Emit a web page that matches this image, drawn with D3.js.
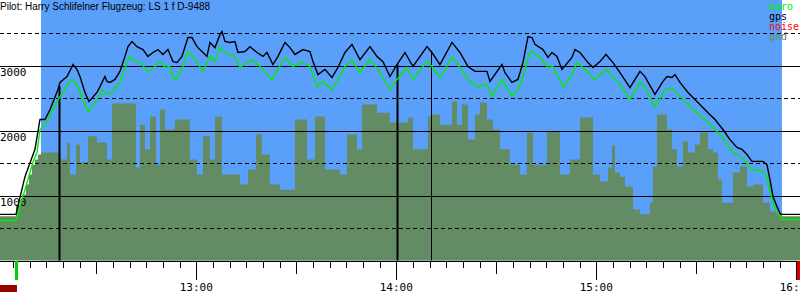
<!DOCTYPE html>
<html>
<head>
<meta charset="utf-8">
<script src="https://cdn.jsdelivr.net/npm/d3@7"></script>
<style>
body { margin: 0; background: #fff; overflow: hidden; }
</style>
</head>
<body>
<div id="barogram"></div>
<script>
// minutes after 12:00 and altitudes in metres
var gpsMin = [0,5.9,8.6,11.6,13.1,14.6,16.1,18.5,19.1,21.2,
  22.7,23.0,24.2,25.1,26.6,27.8,30.2,31.1,32.6,33.2,
  34.1,35.6,37.1,38.6,39.5,40.7,42.2,44.0,45.5,47.0,
  48.5,50.0,51.5,53.0,54.2,55.7,57.5,58.7,60.2,62.0,
  63.2,64.1,65.6,67.1,67.7,68.6,70.1,71.6,72.5,74.6,
  76.1,78.2,80.0,81.2,83.0,84.5,86.6,88.1,89.6,92.0,
  94.1,95.0,96.5,98.6,100.7,102.5,104.6,106.7,109.1,112.1,
  114.2,116.0,118.1,120.2,122.6,125.0,129.2,130.7,133.1,136.7,
  139.1,141.5,143.6,147.2,148.1,151.7,152.6,154.7,156.5,158.0,
  159.5,160.7,161.6,164.0,165.5,166.7,168.2,169.7,172.7,173.6,
  175.1,177.5,179.0,181.1,182.9,185.0,187.1,190.1,193.1,194.6,
  197.6,200.0,201.2,202.7,203.6,205.1,207.5,210.2,213.2,215.6,
  218.0,220.1,222.2,223.7,225.2,226.7,230.0,231.2,232.1,233.0,
  234.2,235.1,235.7,241.1];
var gpsAlt = [710,710,1290,1710,2170,2170,2320,2630,2740,2830,
  2980,3015,2940,2830,2585,2445,2585,2675,2830,2755,
  2740,2785,2910,3140,3290,3370,3290,3245,3140,3200,
  3245,3170,3245,3060,3045,3140,3430,3430,3290,3200,
  3140,3355,3275,3475,3525,3370,3355,3370,3200,3215,
  3290,3200,3140,3200,3015,3140,3355,3275,3170,3245,
  3215,3060,2860,2940,2815,2970,3200,3325,3090,3290,
  3140,3060,2830,3015,3200,2985,3290,3200,3015,3355,
  3200,2985,2910,2910,2755,3015,2890,2740,2785,3045,
  3445,3430,3325,3245,3125,3200,3140,2940,3125,3245,
  3200,3045,2970,3060,3170,3045,2890,2660,2910,2830,
  2555,2755,2830,2815,2860,2740,2585,2445,2290,2170,
  2015,1860,1740,1710,1630,1525,1525,1475,1245,985,
  830,725,710,710];

var baroMin = [0,5.9,7.1,8.6,10.1,11.0,12.2,13.1,15.2,17.0,
  18.5,20.6,22.1,23.0,24.5,26.0,27.5,30.2,31.7,33.2,
  35.0,37.1,39.2,40.1,41.0,43.1,45.5,47.6,49.1,50.6,
  52.1,53.0,53.9,55.7,57.5,59.0,62.0,64.1,65.6,67.1,
  68.6,71.6,73.1,75.2,76.7,78.5,80.0,82.7,84.5,86.6,
  89.0,91.7,94.1,96.2,98.0,100.7,102.5,104.6,106.7,109.1,
  112.1,114.5,118.1,120.2,123.2,125.0,129.2,130.7,133.1,136.7,
  139.1,141.5,144.2,147.2,148.7,151.7,154.7,156.5,158.0,160.1,
  161.0,163.1,165.5,167.0,170.0,172.7,174.2,176.6,179.6,181.1,
  182.9,185.0,187.1,190.1,193.1,194.6,197.6,200.6,203.0,205.1,
  207.5,210.2,213.2,215.6,218.0,220.7,223.7,226.7,230.0,231.2,
  232.1,233.0,234.2,235.1,235.7,241.1];
var baroAlt = [615,615,830,1090,1355,1510,1660,2015,2125,2325,
  2475,2630,2755,2785,2675,2475,2290,2475,2630,2555,
  2600,2740,3045,3140,3090,3045,2910,2985,3060,2970,
  2985,2815,2785,2940,3215,3140,2910,3140,3060,3290,
  3200,3140,2970,3045,3090,3015,2940,2785,2940,3125,
  2985,3045,2985,2675,2755,2630,2785,2985,3090,2890,
  3090,2940,2630,2785,2970,2785,3060,2985,2815,3125,
  2970,2785,2675,2710,2525,2785,2525,2630,2830,3215,
  3200,3125,2970,2985,2675,2860,3045,2940,2785,2860,
  2940,2830,2710,2475,2740,2675,2370,2630,2645,2525,
  2400,2275,2140,2015,1890,1675,1585,1400,1370,1290,
  1060,890,740,675,630,630];

var gndMin = [0,5.9,7.7,8.9,9.8,10.7,11.6,12.5,13.4,19.1,
  21.2,22.1,23.9,25.1,27.5,30.2,33.2,34.7,41.9,43.1,
  44.6,46.1,47.9,49.1,50.6,53.6,58.1,60.2,62.0,64.1,
  65.6,67.7,73.1,75.5,77.9,79.7,82.1,85.1,89.6,93.2,
  95.6,98.6,103.1,105.2,108.2,109.7,114.2,118.1,123.5,125.0,
  129.5,130.7,133.1,136.7,138.2,139.7,141.5,143.6,145.1,147.2,
  149.0,151.1,154.1,157.1,159.2,161.0,165.2,169.1,172.1,175.1,
  179.0,181.1,183.5,184.7,185.6,187.1,188.6,191.0,193.1,196.1,
  197.0,198.2,201.2,202.7,204.2,206.0,207.5,209.6,211.1,213.5,
  215.0,216.5,217.7,221.0,223.1,225.2,227.0,230.0,232.1,234.2,
  235.7,241.1];
var gndAlt = [680,860,1015,1170,1325,1475,1555,1630,1660,1555,
  1815,1325,1785,1510,1910,1815,1555,2415,1430,2090,
  1710,2215,1475,2325,2015,2170,1555,1325,1910,1555,
  2215,1325,1170,1400,1940,1630,1170,1090,2170,1555,
  2215,1400,1325,1940,1710,2400,2275,2125,2200,1710,
  2215,2245,2090,2445,2090,2400,1860,2245,2430,2170,
  2015,1710,1475,1325,1970,1475,1985,1325,1555,2200,
  1325,1215,1430,1770,1355,1290,1140,785,710,890,
  1445,2245,2015,1710,1445,1830,1660,1785,1970,1710,
  1660,1245,890,1355,1445,1140,1170,890,755,710,
  680,680];

var markerMin = [18.8, 120.2, 130.4];
var markerWidth = [2, 2, 1];
var flightMin = [13.4, 235.7];     // blue band
var takeoffMin = 5.9;
var landingMin = 240.2;
var noiseBar = [0, 6.2];
var solidLines = [1000, 2000, 3000];
var dashedLines = [500, 1500, 2500, 3500];
var altLabels = ["1000", "2000", "3000"];
var hourLabels = ["13:00", "14:00", "15:00", "16:00"];
var legendNames = ["baro", "gps", "noise", "gnd"];
var legendColors = ["#00ee00", "#000000", "#ff0000", "#648c64"];
var title = "Pilot: Harry Schlifelner Flugzeug: LS 1 f D-9488";

var width = 800, height = 300;
var plotBottom = 260.5;

function toDate(m) { return new Date(2000, 0, 1, 12, 0, Math.round(m * 60)); }

var svg = d3.select("#barogram")
  .append("svg")
  .attr("width", width)
  .attr("height", height)
  .style("display", "block");

svg.append("rect").attr("width", width).attr("height", height).attr("fill", "#fff");

// time scale: 200 px per hour, 13:00 at x=196.3
var x = d3.scaleTime()
  .domain([toDate(0), toDate(240)])
  .range([-3.7, 796.3]);
var y = d3.scaleLinear()
  .domain([0, 4000])
  .range([plotBottom, 0.5]);

// blue band for the flight
svg.append("rect")
  .attr("x", x(toDate(flightMin[0])))
  .attr("y", 0)
  .attr("width", x(toDate(flightMin[1])) - x(toDate(flightMin[0])))
  .attr("height", plotBottom)
  .attr("fill", "#5a9ffa");

// ground
var gnd = gndMin.map(function(m, i) { return {t: toDate(m), a: gndAlt[i]}; });
svg.append("path")
  .datum(gnd)
  .attr("fill", "#648c64")
  .attr("d", d3.area()
    .curve(d3.curveStepAfter)
    .x(function(d) { return x(d.t); })
    .y0(plotBottom)
    .y1(function(d) { return y(d.a); }));

// grid lines
svg.selectAll(".solid")
  .data(solidLines)
  .enter().append("line")
  .attr("x1", 0).attr("x2", width)
  .attr("y1", function(d) { return Math.round(y(d)) + 0.5; })
  .attr("y2", function(d) { return Math.round(y(d)) + 0.5; })
  .attr("stroke", "#000")
  .attr("shape-rendering", "crispEdges");
svg.selectAll(".dashed")
  .data(dashedLines)
  .enter().append("line")
  .attr("x1", 0).attr("x2", width)
  .attr("y1", function(d) { return Math.round(y(d)) + 0.5; })
  .attr("y2", function(d) { return Math.round(y(d)) + 0.5; })
  .attr("stroke", "#000")
  .attr("stroke-dasharray", "4,3")
  .attr("shape-rendering", "crispEdges");

// altitude labels
svg.selectAll(".alt")
  .data(altLabels)
  .enter().append("text")
  .attr("x", 0)
  .attr("y", function(d) { return y(+d) + 10; })
  .style("font-family", "DejaVu Sans Mono")
  .style("font-size", "11px")
  .text(function(d) { return d; });

// gps value at a time, for the marker tops
function gpsAt(m) {
  var i = d3.bisectLeft(gpsMin, m);
  if (i <= 0) return gpsAlt[0];
  var f = (m - gpsMin[i - 1]) / (gpsMin[i] - gpsMin[i - 1]);
  return gpsAlt[i - 1] + f * (gpsAlt[i] - gpsAlt[i - 1]);
}

// task markers
svg.selectAll(".marker")
  .data(markerMin)
  .enter().append("line")
  .attr("x1", function(d) { return Math.round(x(toDate(d))) + 0.5; })
  .attr("x2", function(d) { return Math.round(x(toDate(d))) + 0.5; })
  .attr("y1", function(d) { return y(gpsAt(d)); })
  .attr("y2", plotBottom)
  .attr("stroke", "#000")
  .attr("stroke-width", function(d, i) { return markerWidth[i]; });

// baro and gps traces
var line = d3.line()
  .x(function(d) { return x(d.t); })
  .y(function(d) { return y(d.a); });
svg.append("path")
  .datum(baroMin.map(function(m, i) { return {t: toDate(m), a: baroAlt[i]}; }))
  .attr("fill", "none")
  .attr("stroke", "#00ee00")
  .attr("stroke-width", 1.4)
  .attr("d", line);
svg.append("path")
  .datum(gpsMin.map(function(m, i) { return {t: toDate(m), a: gpsAlt[i]}; }))
  .attr("fill", "none")
  .attr("stroke", "#000")
  .attr("stroke-width", 1.4)
  .attr("d", line);

// bottom axis line and ticks
svg.append("line")
  .attr("x1", 0).attr("x2", width)
  .attr("y1", plotBottom + 0.5).attr("y2", plotBottom + 0.5)
  .attr("stroke", "#000")
  .attr("shape-rendering", "crispEdges");
var ticks = x.ticks(d3.timeMinute.every(5));
svg.selectAll(".tick")
  .data(ticks)
  .enter().append("line")
  .attr("x1", function(d) { return Math.round(x(d)) + 0.5; })
  .attr("x2", function(d) { return Math.round(x(d)) + 0.5; })
  .attr("y1", 261)
  .attr("y2", function(d) {
    var m = d.getMinutes();
    return 261 + (m == 0 ? 19 : (m == 30 ? 13 : 7));
  })
  .attr("stroke", "#000")
  .attr("shape-rendering", "crispEdges");

// hour labels (16:00 runs off the right edge, as in the original)
svg.selectAll(".hour")
  .data(hourLabels)
  .enter().append("text")
  .attr("x", function(d) { return x(toDate(60 * (+d.slice(0, 2) - 12))); })
  .attr("y", 291)
  .attr("text-anchor", "middle")
  .style("font-family", "DejaVu Sans Mono")
  .style("font-size", "11px")
  .text(function(d) { return d; });

// takeoff / landing / noise indicators
svg.append("rect")
  .attr("x", x(toDate(takeoffMin)) - 1).attr("y", 261)
  .attr("width", 3).attr("height", 19)
  .attr("fill", "#00cc00");
svg.append("rect")
  .attr("x", x(toDate(landingMin))).attr("y", 261)
  .attr("width", 4).attr("height", 19)
  .attr("fill", "#dd0000");
svg.append("rect")
  .attr("x", 0).attr("y", 285)
  .attr("width", x(toDate(noiseBar[1])) - Math.max(0, x(toDate(noiseBar[0]))))
  .attr("height", 7)
  .attr("fill", "#990000");

// title
svg.append("text")
  .attr("x", 0)
  .attr("y", 10)
  .style("font-family", "Liberation Sans")
  .style("font-size", "10px")
  .text(title);

// legend
svg.selectAll(".legend")
  .data(legendNames)
  .enter().append("text")
  .attr("x", 769)
  .attr("y", function(d, i) { return 10 + i * 10; })
  .attr("fill", function(d, i) { return legendColors[i]; })
  .style("font-family", "DejaVu Sans Mono")
  .style("font-size", "10px")
  .text(function(d) { return d; });
</script>
</body>
</html>
